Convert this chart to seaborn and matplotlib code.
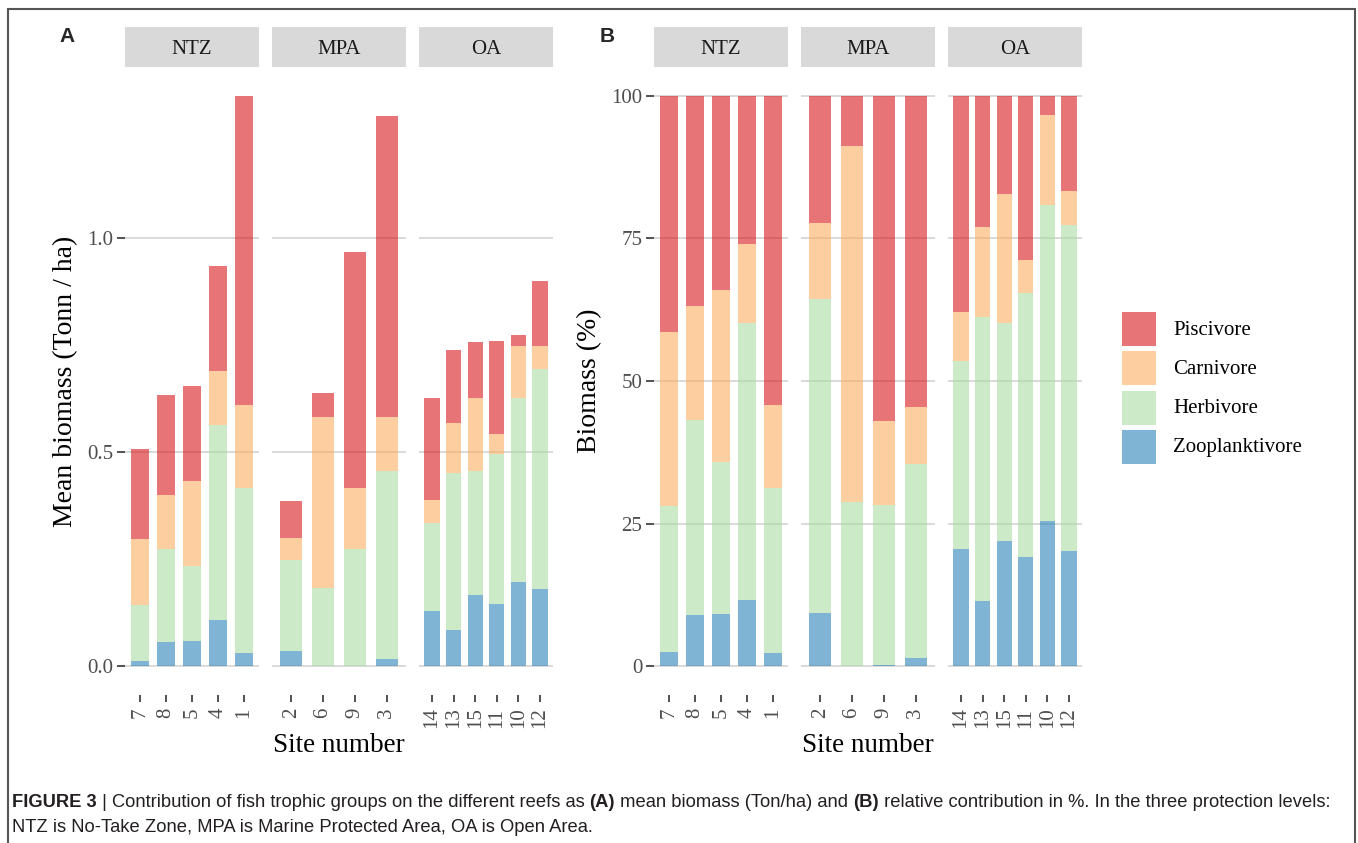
import numpy as np
import pandas as pd
import matplotlib
matplotlib.use("Agg")
import matplotlib.pyplot as plt
from matplotlib.patches import Rectangle
import seaborn as sns

# values (mean biomass, Tonn / ha)
zones = ["NTZ", "MPA", "OA"]
sites_ntz = ["7", "8", "5", "4", "1"]
sites_mpa = ["2", "6", "9", "3"]
sites_oa = ["14", "13", "15", "11", "10", "12"]
groups = ["Piscivore", "Carnivore", "Herbivore", "Zooplanktivore"]

# order: NTZ sites, MPA sites, OA sites
piscivore = [0.210, 0.233, 0.223, 0.243, 0.721,
             0.086, 0.056, 0.551, 0.701,
             0.237, 0.170, 0.130, 0.218, 0.026, 0.150]
carnivore = [0.155, 0.126, 0.198, 0.128, 0.193,
             0.051, 0.397, 0.142, 0.127,
             0.054, 0.116, 0.171, 0.045, 0.123, 0.054]
herbivore = [0.1305, 0.216, 0.174, 0.453, 0.386,
             0.212, 0.184, 0.271, 0.437,
             0.205, 0.368, 0.290, 0.350, 0.428, 0.513]
zooplanktivore = [0.0125, 0.057, 0.060, 0.109, 0.031,
                  0.036, 0.000, 0.002, 0.018,
                  0.129, 0.084, 0.166, 0.146, 0.197, 0.181]

colors = ["#D7191C", "#FDAE61", "#ABDDA4", "#2B83BA"]

W, H = 1358, 843


def fx(px):
    return px / W


def fy(py):
    return 1 - py / H


def build_frame():
    rows = []
    site_zone = [("NTZ", s) for s in sites_ntz] + [("MPA", s) for s in sites_mpa] + [("OA", s) for s in sites_oa]
    values = {"Piscivore": piscivore, "Carnivore": carnivore,
              "Herbivore": herbivore, "Zooplanktivore": zooplanktivore}
    for i, (zone, site) in enumerate(site_zone):
        for g in groups:
            rows.append({"zone": zone, "site": site, "group": g, "biomass": values[g][i]})
    df = pd.DataFrame(rows)
    pos = {}
    for zone, sites in zip(zones, [sites_ntz, sites_mpa, sites_oa]):
        for k, s in enumerate(sites):
            pos[(zone, s)] = k + 1
    df["pos"] = [pos[(z, s)] for z, s in zip(df["zone"], df["site"])]
    # relative contribution in %
    df["pct"] = 100 * df["biomass"] / df.groupby(["zone", "site"])["biomass"].transform("sum")
    return df


def main():
    sns.set_theme(style="white")
    plt.rcParams["font.family"] = ["Liberation Serif", "DejaVu Serif"]

    df = build_frame()
    palette = dict(zip(groups, colors))

    fig = plt.figure(figsize=(W / 100, H / 100), dpi=100)

    top, bottom = 67, 695
    panels = {
        "A": dict(x0=[125, 272, 419], col="biomass", ylim=(-0.0666, 1.398),
                  ticks=[0, 0.5, 1.0], ticklabels=["0.0", "0.5", "1.0"],
                  ylabel="Mean biomass (Tonn / ha)", ylab_x=66, tag_x=67),
        "B": dict(x0=[654, 801, 948], col="pct", ylim=(-5, 105),
                  ticks=[0, 25, 50, 75, 100], ticklabels=["0", "25", "50", "75", "100"],
                  ylabel="Biomass (%)", ylab_x=590, tag_x=607),
    }
    pw = 134

    for tag, p in panels.items():
        for j, (zone, sites) in enumerate(zip(zones, [sites_ntz, sites_mpa, sites_oa])):
            x0 = p["x0"][j]
            ax = fig.add_axes([fx(x0), fy(bottom), pw / W, (bottom - top) / H])
            sub = df[df["zone"] == zone]
            sns.histplot(data=sub, x="pos", weights=p["col"], hue="group", hue_order=groups,
                         multiple="stack", discrete=True, shrink=0.7, palette=palette,
                         alpha=0.6, linewidth=0, legend=False, ax=ax)
            n = len(sites)
            ax.set_xlim(0.4, n + 0.6)
            ax.set_ylim(*p["ylim"])
            ax.set_xticks(range(1, n + 1))
            ax.set_xticklabels(sites, rotation=90, fontsize=15, color="#4D4D4D")
            ax.set_yticks(p["ticks"])
            ax.set_yticklabels(p["ticklabels"], fontsize=15, color="#4D4D4D")
            ax.set_xlabel("")
            ax.set_ylabel("")
            for sp in ax.spines.values():
                sp.set_visible(False)
            ax.set_axisbelow(True)
            ax.yaxis.grid(True, color="#D0D0D0", linewidth=1.1)
            ax.xaxis.grid(False)
            ax.tick_params(axis="x", bottom=True, length=5, width=1.2, color="#333333", pad=4)
            ax.tick_params(axis="y", left=True, length=5.5, width=1.2, color="#333333", pad=3)
            if j > 0:
                ax.tick_params(axis="y", left=False, labelleft=False)

            # facet strip
            fig.patches.append(Rectangle((fx(x0), fy(top)), pw / W, (top - 27) / H,
                                         transform=fig.transFigure, facecolor="#D9D9D9",
                                         edgecolor="none", zorder=0))
            fig.text(fx(x0 + pw / 2), fy(50), zone, ha="center", va="center",
                     fontsize=15, color="#1A1A1A")

        # axis titles
        xc = (p["x0"][0] + p["x0"][2] + pw) / 2
        fig.text(fx(xc), fy(746), "Site number", ha="center", va="center", fontsize=19.5, color="black")
        fig.text(fx(p["ylab_x"]), fy((top + bottom) / 2), p["ylabel"], rotation=90,
                 ha="center", va="center", fontsize=20, color="black")
        fig.text(fx(p["tag_x"]), fy(36), tag, ha="center", va="center", fontsize=15,
                 fontweight="bold", family=["Liberation Sans", "DejaVu Sans"])

    # legend (ggplot-like keys)
    for k, (g, c) in enumerate(zip(groups, colors)):
        ky = 312 + 39.3 * k
        fig.patches.append(Rectangle((fx(1122), fy(ky + 34)), 34 / W, 34 / H,
                                     transform=fig.transFigure, facecolor=c, alpha=0.6,
                                     edgecolor="none"))
        fig.text(fx(1173), fy(ky + 18), g, ha="left", va="center", fontsize=15, color="black")

    # caption
    cap_font = ["Liberation Sans Narrow", "Liberation Sans", "DejaVu Sans"]
    renderer = fig.canvas.get_renderer()
    line1 = [("FIGURE 3", "bold"),
             (" | Contribution of fish trophic groups on the different reefs as ", "normal"),
             ("(A)", "bold"),
             (" mean biomass (Ton/ha) and ", "normal"),
             ("(B)", "bold"),
             (" relative contribution in %. In the three protection levels:", "normal")]
    x = fx(12)
    for s, w in line1:
        t = fig.text(x, fy(807), s, ha="left", va="baseline", fontsize=13.2,
                     fontweight=w, family=cap_font, color="#231F20")
        bb = t.get_window_extent(renderer)
        x = bb.x1 / W
    fig.text(fx(12), fy(832), "NTZ is No-Take Zone, MPA is Marine Protected Area, OA is Open Area.",
             ha="left", va="baseline", fontsize=13.2, family=cap_font, color="#231F20")

    # frame around the figure
    fig.patches.append(Rectangle((fx(8), -0.05), fx(1355 - 8), 1.05 - 9 / H,
                                 transform=fig.transFigure, fill=False,
                                 edgecolor="#555555", linewidth=1.5))

    fig.savefig("out.png", dpi=100)
    plt.close(fig)


if __name__ == "__main__":
    main()
